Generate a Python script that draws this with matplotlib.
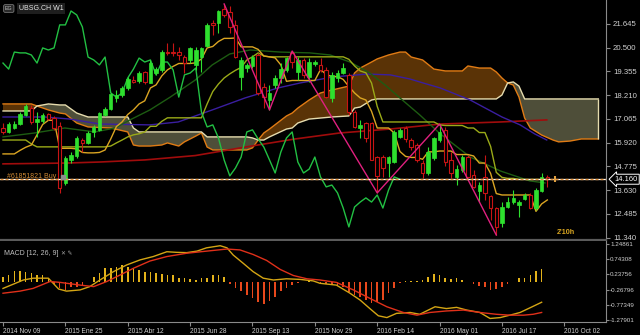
import numpy as np
import matplotlib.pyplot as plt

plt.rcParams['font.family'] = ['Liberation Sans', 'DejaVu Sans']

# ---- UBSG.CH weekly candles, week 0 = 2014 Nov 09
opens = [16.63, 16.44, 16.63, 16.82, 17.26, 17.59, 16.92, 16.97, 17.31, 17.11,
         16.73, 13.98, 15.09, 15.28, 16.05, 15.91, 16.44, 16.54, 17.26, 17.55,
         18.08, 18.22, 18.56, 18.94, 18.90, 19.33, 18.80, 19.28, 19.43, 20.29,
         20.29, 20.29, 20.05, 19.91, 19.67, 20.05, 20.58, 21.69, 21.69, 22.37,
         22.22, 21.60, 19.09, 19.52, 19.62, 20.15, 18.61, 17.98, 18.70, 19.04,
         19.43, 20.25, 19.33, 19.91, 19.09, 19.72, 19.67, 19.43, 18.08, 19.04,
         19.28, 19.19, 17.40, 16.63, 16.87, 16.87, 15.23, 15.23, 14.94, 14.99,
         16.20, 16.63, 16.05, 15.81, 14.94, 14.46, 15.18, 16.05, 16.54, 15.09,
         14.27, 14.61, 15.23, 14.37, 13.59, 14.27, 13.35, 12.77, 12.05, 12.82,
         13.06, 12.92, 13.21, 13.40, 12.77, 13.59, 14.27]
highs = [16.87, 16.92, 16.97, 17.40, 17.79, 17.74, 17.40, 17.35, 17.35, 17.21,
         16.92, 15.28, 15.47, 16.24, 16.15, 16.49, 16.78, 17.40, 17.64, 18.32,
         18.46, 18.66, 19.09, 19.14, 19.38, 19.38, 19.91, 19.57, 20.39, 20.73,
         20.73, 20.54, 20.15, 20.54, 20.54, 20.54, 21.69, 21.84, 22.32, 22.61,
         22.51, 21.84, 20.05, 19.76, 20.15, 20.25, 18.80, 18.70, 19.19, 19.76,
         20.05, 20.34, 20.05, 20.00, 20.00, 19.91, 20.00, 19.57, 19.33, 19.43,
         19.76, 19.28, 17.50, 17.02, 16.92, 16.92, 15.28, 15.33, 15.28, 16.54,
         16.63, 16.73, 16.15, 15.91, 15.09, 15.71, 16.20, 16.82, 16.68, 15.47,
         14.85, 15.33, 15.33, 14.61, 14.03, 15.33, 13.40, 12.82, 13.06, 13.30,
         13.64, 13.16, 13.50, 13.50, 13.74, 14.46, 14.37]
lows = [16.34, 16.39, 16.58, 16.78, 17.21, 16.82, 16.20, 16.87, 17.02, 16.54,
        13.50, 13.88, 14.94, 15.18, 15.47, 15.86, 16.20, 16.49, 17.21, 17.50,
        17.88, 18.12, 18.46, 18.80, 18.80, 18.75, 18.80, 19.19, 19.33, 20.15,
        20.10, 19.91, 19.28, 19.76, 19.43, 19.33, 20.54, 21.11, 21.21, 21.98,
        21.21, 20.00, 18.46, 19.33, 19.52, 18.22, 17.59, 17.50, 18.56, 18.80,
        19.33, 19.52, 18.94, 19.04, 18.85, 19.62, 19.33, 18.08, 17.88, 18.85,
        19.23, 17.26, 16.63, 16.15, 15.96, 15.09, 13.50, 14.27, 14.27, 14.94,
        16.15, 15.96, 15.57, 14.99, 14.22, 14.37, 15.09, 15.96, 14.80, 14.22,
        13.88, 14.51, 14.22, 13.74, 13.06, 13.16, 12.20, 11.47, 11.86, 12.77,
        12.97, 12.34, 13.16, 12.73, 12.68, 13.55, 13.79]
closes = [16.44, 16.82, 16.82, 17.31, 17.69, 16.92, 17.06, 17.26, 17.06, 16.63,
          13.74, 15.18, 15.33, 16.15, 15.91, 16.39, 16.68, 17.35, 17.55, 18.27,
          18.22, 18.56, 18.99, 18.85, 19.28, 18.85, 19.76, 19.47, 20.29, 20.25,
          20.25, 20.15, 19.76, 20.49, 20.39, 20.49, 21.60, 21.60, 22.27, 22.08,
          21.50, 20.05, 19.91, 19.67, 20.05, 18.32, 18.12, 18.32, 19.04, 19.47,
          20.00, 19.81, 19.91, 19.19, 19.81, 19.81, 19.43, 18.12, 19.19, 19.28,
          19.52, 17.40, 16.68, 16.78, 16.15, 15.09, 14.32, 14.70, 15.23, 16.44,
          16.54, 16.10, 15.71, 15.09, 14.46, 15.47, 16.15, 16.44, 14.99, 14.46,
          14.65, 15.23, 14.27, 13.79, 13.88, 13.50, 12.77, 11.86, 12.82, 13.06,
          13.26, 13.06, 13.40, 12.77, 13.64, 14.27, 14.16]

# ---- ichimoku lines
tenkan = [15.38, 15.38, 15.38, 15.55, 15.70, 15.81, 16.30, 16.80, 17.00, 17.00,
          15.65, 15.65, 15.65, 15.62, 15.45, 15.43, 15.43, 15.45, 15.57, 16.10,
          16.70, 16.92, 17.28, 17.50, 17.79, 17.94, 18.56, 18.71, 19.14, 19.43,
          19.60, 19.74, 19.74, 19.74, 19.77, 19.96, 20.49, 20.56, 20.80, 20.95,
          20.95, 20.97, 20.54, 20.54, 20.54, 20.42, 20.10, 20.06, 20.01, 19.67,
          18.88, 18.92, 18.92, 18.92, 18.92, 18.92, 19.45, 19.21, 19.11, 19.11,
          18.97, 18.63, 18.32, 18.08, 17.98, 17.43, 16.63, 16.63, 16.63, 16.39,
          15.50, 15.26, 15.21, 15.21, 15.12, 15.48, 15.48, 15.52, 15.52, 15.52,
          15.35, 15.35, 15.35, 15.28, 14.94, 14.94, 14.44, 13.47, 13.40, 13.40,
          13.40, 13.40, 13.40, 13.40, 12.61, 12.97, 13.16]
kijun = [16.05, 16.05, 16.05, 16.05, 16.05, 15.86, 15.72, 15.72, 15.72, 15.72,
         15.72, 15.72, 15.72, 15.72, 15.72, 15.72, 15.72, 15.72, 15.72, 15.76,
         15.91, 16.05, 16.20, 16.30, 16.35, 16.44, 16.71, 16.71, 16.95, 17.12,
         17.12, 17.12, 17.12, 17.12, 17.12, 17.12, 17.79, 18.39, 18.75, 19.04,
         19.24, 19.41, 19.55, 19.91, 20.06, 20.25, 20.10, 20.06, 20.06, 20.06,
         20.06, 20.06, 20.06, 20.06, 20.06, 20.06, 20.06, 20.06, 20.06, 20.06,
         20.06, 19.94, 19.62, 19.38, 19.29, 18.80, 17.67, 16.92, 16.92, 16.92,
         16.92, 16.92, 16.92, 16.92, 16.92, 16.92, 16.92, 16.78, 16.75, 16.75,
         16.75, 16.75, 16.63, 16.63, 16.41, 16.41, 15.74, 14.49, 14.25, 14.20,
         14.20, 14.15, 14.15, 14.15, 14.15, 14.15, 14.15]

cloud_wk = [0, 5, 6, 8, 10, 11, 13, 15, 19, 22,
            23, 24, 26, 28, 29, 31, 32, 34, 35, 36,
            37, 43, 44, 45, 46, 47, 50, 51, 52, 54,
            56, 58, 61, 62, 63, 65, 66, 68, 70, 71,
            72, 74, 76, 78, 81, 82, 84, 86, 87, 88,
            89, 90, 91, 92, 93, 95, 97, 98, 100, 102,
            105]
span_a = [17.79, 17.79, 17.69, 17.50, 17.35, 17.31, 16.87, 16.68, 16.63, 16.44,
          15.81, 15.76, 15.76, 15.81, 15.91, 15.76, 15.96, 16.24, 16.39, 15.71,
          15.57, 15.57, 15.67, 16.05, 16.39, 16.58, 17.21, 17.35, 17.59, 17.98,
          18.32, 18.46, 18.65, 19.28, 19.52, 19.81, 19.96, 20.15, 20.29, 20.29,
          20.05, 19.91, 19.47, 19.38, 19.38, 19.62, 19.52, 19.52, 19.33, 19.04,
          18.80, 18.70, 18.12, 17.11, 16.63, 16.29, 16.05, 15.96, 16.00, 16.10,
          16.10]
span_b = [17.45, 17.45, 17.69, 17.79, 17.74, 17.74, 17.35, 17.16, 17.16, 17.16,
          16.63, 16.44, 16.44, 16.44, 16.44, 16.44, 16.44, 16.44, 16.44, 16.20,
          16.20, 16.20, 16.15, 16.05, 16.05, 16.20, 16.58, 16.63, 16.87, 17.06,
          17.11, 17.16, 17.21, 17.59, 17.64, 17.98, 18.03, 18.03, 18.03, 18.03,
          18.03, 18.03, 18.03, 18.03, 18.03, 18.03, 18.03, 18.03, 18.03, 18.22,
          18.80, 18.85, 18.65, 18.03, 18.03, 18.03, 18.03, 18.03, 18.03, 18.03,
          18.03]

# ---- moving averages, sampled along the curve
ma_green_wk = [0, 5.6, 10.9, 16.2, 19.8, 22.4, 25.9, 29.5, 33.9, 36.9, 40.0, 43.6,
               48.9, 54.1, 57.7, 61.2, 64.7, 67.4, 70.0, 73.5, 77.1, 82.4, 87.7, 92.9, 95.6]
ma_green = [16.20, 16.39, 16.63, 16.44, 16.63, 17.02, 17.50, 18.12, 18.94, 19.67, 20.20, 20.39,
            20.29, 20.25, 20.15, 19.81, 19.28, 18.70, 18.08, 17.26, 16.35, 15.23, 14.56, 14.08, 13.98]
ma_blue_wk = [0, 7.4, 11.8, 17.1, 25.9, 30.9, 36.9, 42.7, 48.5, 52.4, 58.2,
              64.2, 68.3, 71.8, 74.1, 77.1, 82.4, 88.0, 91.2, 93.8, 95.9]
ma_blue = [17.16, 17.16, 17.06, 16.82, 16.78, 16.92, 17.50, 18.08, 18.56, 18.80, 19.09,
           19.23, 19.19, 18.99, 18.80, 18.56, 17.98, 17.16, 16.78, 16.34, 16.05]
ma_red_wk = [0, 11.3, 17.1, 25.0, 33.9, 42.7, 51.5, 59.4, 68.3, 77.1, 87.7, 95.9]
ma_red = [14.90, 14.94, 14.99, 15.09, 15.30, 15.71, 16.10, 16.39, 16.58, 16.82, 16.92, 17.02]

# zigzag pivots
zz_wk = [39, 47, 51, 66, 77, 87]
zz_px = [22.61, 17.50, 20.34, 13.50, 16.82, 11.47]

# ---- MACD (12, 26, 9)
hist = [0.16, 0.22, 0.36, 0.36, 0.33, 0.29, 0.22, 0.22, 0.13, -0.09,
        -0.23, -0.28, -0.17, -0.17, -0.14, -0.01, 0.16, 0.27, 0.44, 0.44,
        0.49, 0.55, 0.49, 0.46, 0.38, 0.33, 0.30, 0.27, 0.24, 0.22,
        0.22, 0.13, 0.11, 0.07, 0.05, 0.11, 0.13, 0.20, 0.22, 0.16,
        -0.09, -0.23, -0.32, -0.45, -0.56, -0.69, -0.75, -0.65, -0.51, -0.32,
        -0.21, -0.12, -0.06, -0.03, 0.02, -0.03, -0.05, -0.08, -0.10, -0.14,
        -0.17, -0.34, -0.45, -0.51, -0.62, -0.73, -0.69, -0.62, -0.39, -0.21,
        -0.06, 0.01, 0.02, 0.02, 0.04, 0.16, 0.24, 0.20, 0.11, 0.08,
        0.11, 0.05, -0.02, -0.09, -0.14, -0.17, -0.28, -0.25, -0.17, -0.09,
        -0.01, 0.11, 0.13, 0.22, 0.35, 0.41]
macd_wk = [0, 1.8, 3.6, 5.3, 8.0, 9.8, 11.2, 13.6, 15.3, 17.1, 19.5, 21.8, 24.2, 26.5,
           28.9, 30.6, 32.4, 34.2, 35.9, 38.3, 39.5, 40.6, 42.4, 44.1, 45.9, 47.7, 50.0,
           52.4, 54.7, 55.9, 58.8, 61.2, 63.0, 64.7, 66.2, 67.7, 69.4, 71.8, 73.5, 76.2,
           78.2, 80.0, 81.8, 84.1, 85.9, 87.7, 90.0, 91.2, 93.0, 95.0]
macd_main = [-0.23, -0.09, 0.05, 0.11, 0.11, -0.25, -0.32, -0.28, -0.17, 0.05, 0.33, 0.55, 0.72, 0.83,
             0.99, 0.97, 0.96, 1.01, 1.12, 1.19, 1.12, 0.88, 0.60, 0.33, 0.11, 0.05, 0.09,
             0.07, 0.02, -0.06, -0.12, -0.39, -0.62, -0.90, -1.14, -1.20, -1.06, -1.03, -1.09, -0.84,
             -0.90, -0.86, -0.95, -1.03, -1.23, -1.20, -1.09, -1.03, -0.87, -0.69]
sig_wk = [0, 3.0, 5.3, 8.3, 10.1, 13.6, 16.0, 18.3, 20.7, 23.0, 25.9, 28.9, 32.4, 35.9,
          39.5, 41.8, 44.1, 46.5, 48.9, 51.2, 53.6, 55.9, 58.8, 61.8, 64.7, 67.7, 70.6,
          73.0, 75.3, 78.2, 81.2, 84.1, 87.0, 89.4, 91.8, 93.5, 95.0]
macd_sig = [-0.39, -0.32, -0.23, 0.00, -0.03, -0.12, -0.17, 0.00, 0.22, 0.44, 0.68, 0.83, 0.94, 1.01,
            1.08, 1.05, 0.90, 0.70, 0.40, 0.20, 0.09, 0.05, -0.03, -0.28, -0.56, -0.84, -1.03,
            -1.12, -1.03, -0.98, -0.95, -1.03, -1.09, -1.12, -1.12, -1.09, -1.03]

date_wk = [0, 11, 22, 33, 44, 55, 66, 77, 88, 99]
date_labels = ['2014 Nov 09', '2015 Ene 25', '2015 Abr 12', '2015 Jun 28', '2015 Sep 13',
               '2015 Nov 29', '2016 Feb 14', '2016 May 01', '2016 Jul 17', '2016 Oct 02']
price_ticks = [11.340, 12.485, 13.630, 14.775, 15.920, 17.065, 18.210, 19.355, 20.500, 21.645]
macd_ticks = [1.24861, 0.74308, 0.23756, -0.26796, -0.77349, -1.27901]
macd_tick_labels = ['1.24861', '0.74308', '0.23756', '-0.26796', '-0.77349', '-1.27901']
bid = 14.16
order_price = 14.18

GRID = '#8a8a8a'
TXT = '#d0d0d0'

fig = plt.figure(figsize=(6.4, 3.35), dpi=100, facecolor='black')
ax = fig.add_axes([0, 95 / 335, 606 / 640, 240 / 335], facecolor='black')
axm = fig.add_axes([0, 13 / 335, 606 / 640, 81 / 335], facecolor='black')

weeks = np.arange(len(opens))
o = np.array(opens)
h = np.array(highs)
l = np.array(lows)
c = np.array(closes)

# cloud
cw = np.array(cloud_wk)
a = np.array(span_a)
b = np.array(span_b)
ax.fill_between(cw, a, b, where=a >= b, interpolate=True, color='#5a3306', lw=0, zorder=1)
ax.fill_between(cw, a, b, where=a < b, interpolate=True, color='#4e4e39', lw=0, zorder=1)
ax.plot(cw, a, color='#e07b14', lw=1, zorder=2)
ax.plot(cw, b, color='#e6dcae', lw=1, zorder=2)
ax.vlines(cloud_wk[-1], span_a[-1], span_b[-1], color='#e6dcae', lw=1, zorder=2)

# moving averages and ichimoku lines
ax.plot(ma_red_wk, ma_red, color='#a00c0c', lw=1.2, zorder=2)
ax.plot(ma_blue_wk, ma_blue, color='#3a1ea0', lw=1, zorder=2)
ax.plot(ma_green_wk, ma_green, color='#1d5c12', lw=1, zorder=2)
ax.plot(weeks, kijun, color='#9aaa18', lw=1, zorder=2)
ax.plot(weeks, tenkan, color='#dba522', lw=1, zorder=2)
ax.plot(weeks[26:] - 26, c[26:], color='#22c043', lw=1, zorder=2)  # chikou span

# candles
up = c >= o
ax.vlines(weeks[up], l[up], h[up], color='#2ee02e', lw=0.8, zorder=3)
ax.vlines(weeks[~up], l[~up], h[~up], color='#c81414', lw=0.8, zorder=3)
body_lo = np.minimum(o, c)
body_h = np.maximum(np.abs(c - o), 0.04)
ax.bar(weeks[up], body_h[up], bottom=body_lo[up], width=0.62,
       color='#2ee02e', edgecolor='#2ee02e', lw=0.5, zorder=4)
ax.bar(weeks[~up], body_h[~up], bottom=body_lo[~up], width=0.62,
       color='black', edgecolor='#c81414', lw=0.8, zorder=4)

ax.plot(zz_wk, zz_px, color='#e0207f', lw=1, zorder=5)

# price / order lines
ax.axhline(bid, color='white', lw=0.9, zorder=5)
ax.axhline(order_price, color='#e0903a', lw=1, dashes=(2.2, 1.4), zorder=6)
ax.text(0.7, 14.27, '#61851821 Buy', color='#d08a34', fontsize=5, va='center', zorder=7)
ax.plot(10.6, 14.27, marker='s', ms=2.5, color='#8c8c8c', zorder=7)
ax.plot(97.3, bid, marker='|', ms=4, mew=1.5, color='#e0a040', zorder=7)
ax.text(97.7, 11.57, "2'10h", color='#d8a520', fontsize=5.2, fontweight='bold', va='center')
ax.text(1.014, bid, f'{bid:.3f}', transform=ax.get_yaxis_transform(), color='white',
        fontsize=5.4, va='center', ha='left', clip_on=False,
        bbox=dict(boxstyle='larrow,pad=0.2', fc='black', ec='white', lw=0.7))

ax.set_xlim(-0.53, 106.35)
ax.set_ylim(11.23, 22.80)
ax.set_xticks([])
ax.yaxis.tick_right()
ax.set_yticks(price_ticks)
ax.set_yticklabels([f'{v:.3f}' for v in price_ticks])
ax.tick_params(axis='y', colors=GRID, labelcolor=TXT, labelsize=5.6, length=3, width=0.8, pad=2)
for s in ['left', 'top']:
    ax.spines[s].set_visible(False)
ax.spines['right'].set_color(GRID)
ax.spines['bottom'].set_color('#5a5a5a')
ax.spines['bottom'].set_linewidth(1.6)

# ---- MACD panel
hv = np.array(hist)
hw = np.arange(len(hist))
axm.bar(hw, hv, width=0.28, color=np.where(hv >= 0, '#e3b21a', '#e8481c'), lw=0, zorder=1)
axm.plot(macd_wk, macd_main, color='#d4a514', lw=1, zorder=2)
axm.plot(sig_wk, macd_sig, color='#e0301a', lw=1, zorder=2)
axm.text(0.006, 0.84, 'MACD [12, 26, 9]', transform=axm.transAxes, color='#c0c0c0',
         fontsize=5, va='center')
axm.text(0.1, 0.84, '\u2715 \u270e', transform=axm.transAxes, color='#a0a0a0',
         fontsize=4.2, va='center')

axm.set_xlim(-0.53, 106.35)
axm.set_ylim(-1.347, 1.347)
axm.yaxis.tick_right()
axm.set_yticks(macd_ticks)
axm.set_yticklabels(macd_tick_labels)
axm.set_xticks(date_wk)
axm.set_xticklabels(date_labels)
for lab in axm.get_xticklabels():
    lab.set_ha('left')
axm.tick_params(axis='y', colors=GRID, labelcolor=TXT, labelsize=4.5, length=2, width=0.8, pad=1)
axm.tick_params(axis='x', colors=GRID, labelcolor=TXT, labelsize=4.8, length=3, width=0.8, pad=1)
for s in ['left', 'top']:
    axm.spines[s].set_visible(False)
axm.spines['right'].set_color(GRID)
axm.spines['bottom'].set_color(GRID)

# chart title box
fig.text(5 / 640, 1 - 8.5 / 335, 'EG', fontsize=3.8, color='#c0c0c0', va='center', ha='left',
         bbox=dict(boxstyle='round,pad=0.25', fc='#2a2a2a', ec='#8a8a8a', lw=0.5))
fig.text(19 / 640, 1 - 8.5 / 335, 'UBSG.CH W1', fontsize=5, color='#e8e8e8', va='center',
         ha='left', bbox=dict(boxstyle='square,pad=0.25', fc='#1e1e1e', ec='none'))

fig.savefig('out.png', dpi=100, facecolor='black')
